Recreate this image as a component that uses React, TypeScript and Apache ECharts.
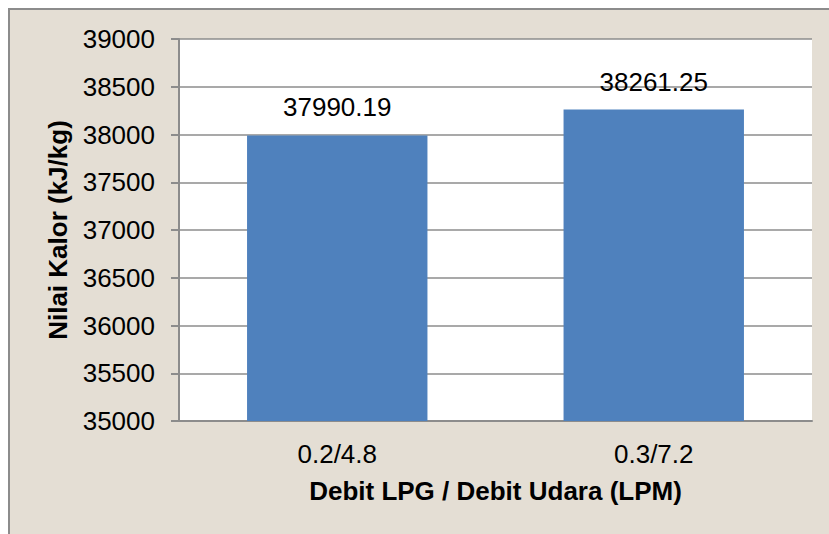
import React, { useEffect, useRef } from "react";
import * as echarts from "echarts";

const categories = ["0.2/4.8", "0.3/7.2"];
const values = [37990.19, 38261.25];
const valueLabels = ["37990.19", "38261.25"];
const yTitle = "Nilai Kalor (kJ/kg)";
const xTitle = "Debit LPG / Debit Udara (LPM)";

const FONT = "'Liberation Sans', Arial, sans-serif";

export default function App() {
  const ref = useRef<HTMLDivElement>(null);
  useEffect(() => {
    if (!ref.current) return;
    const chart = echarts.init(ref.current, null, { renderer: "svg" });
    chart.setOption({
      animation: false,
      backgroundColor: "#ffffff",
      graphic: [
        {
          type: "rect",
          z: -10,
          silent: true,
          shape: { x: 9, y: 9, width: 840, height: 540 },
          style: { fill: "#e4ded4", stroke: "#8c8c8c", lineWidth: 2 },
        },
      ],
      grid: {
        left: 179,
        right: 17,
        top: 39,
        bottom: 113,
        show: true,
        backgroundColor: "#ffffff",
        borderWidth: 0,
        containLabel: false,
      },
      xAxis: {
        type: "category",
        data: categories,
        name: xTitle,
        nameLocation: "middle",
        nameGap: 57,
        nameTextStyle: { fontFamily: FONT, fontSize: 26, fontWeight: "bold", color: "#000" },
        axisLine: { show: true, lineStyle: { color: "#8c8c8c", width: 2 } },
        axisTick: { show: false },
        axisLabel: { fontFamily: FONT, fontSize: 26, color: "#000", margin: 20 },
      },
      yAxis: {
        type: "value",
        min: 35000,
        max: 39000,
        interval: 500,
        name: yTitle,
        nameLocation: "middle",
        nameGap: 108,
        nameTextStyle: { fontFamily: FONT, fontSize: 26, fontWeight: "bold", color: "#000" },
        axisLine: { show: true, lineStyle: { color: "#8c8c8c", width: 2 } },
        axisTick: { show: true, length: 8, lineStyle: { color: "#8c8c8c", width: 2 } },
        axisLabel: {
          fontFamily: FONT,
          fontSize: 26,
          color: "#000",
          margin: 24,
          formatter: (v: number) => String(v),
        },
        splitLine: { show: true, lineStyle: { color: "#8c8c8c", width: 1.5 } },
      },
      series: [
        {
          type: "bar",
          data: values,
          barWidth: "57%",
          itemStyle: { color: "#4f81bd" },
          label: {
            show: true,
            position: "top",
            distance: 15,
            fontFamily: FONT,
            fontSize: 26,
            color: "#000",
            formatter: (p: any) => valueLabels[p.dataIndex],
          },
        },
      ],
    });
    return () => chart.dispose();
  }, []);
  return (
    <div
      ref={ref}
      style={{ position: "fixed", left: 0, top: 0, width: 829, height: 534 }}
    />
  );
}
